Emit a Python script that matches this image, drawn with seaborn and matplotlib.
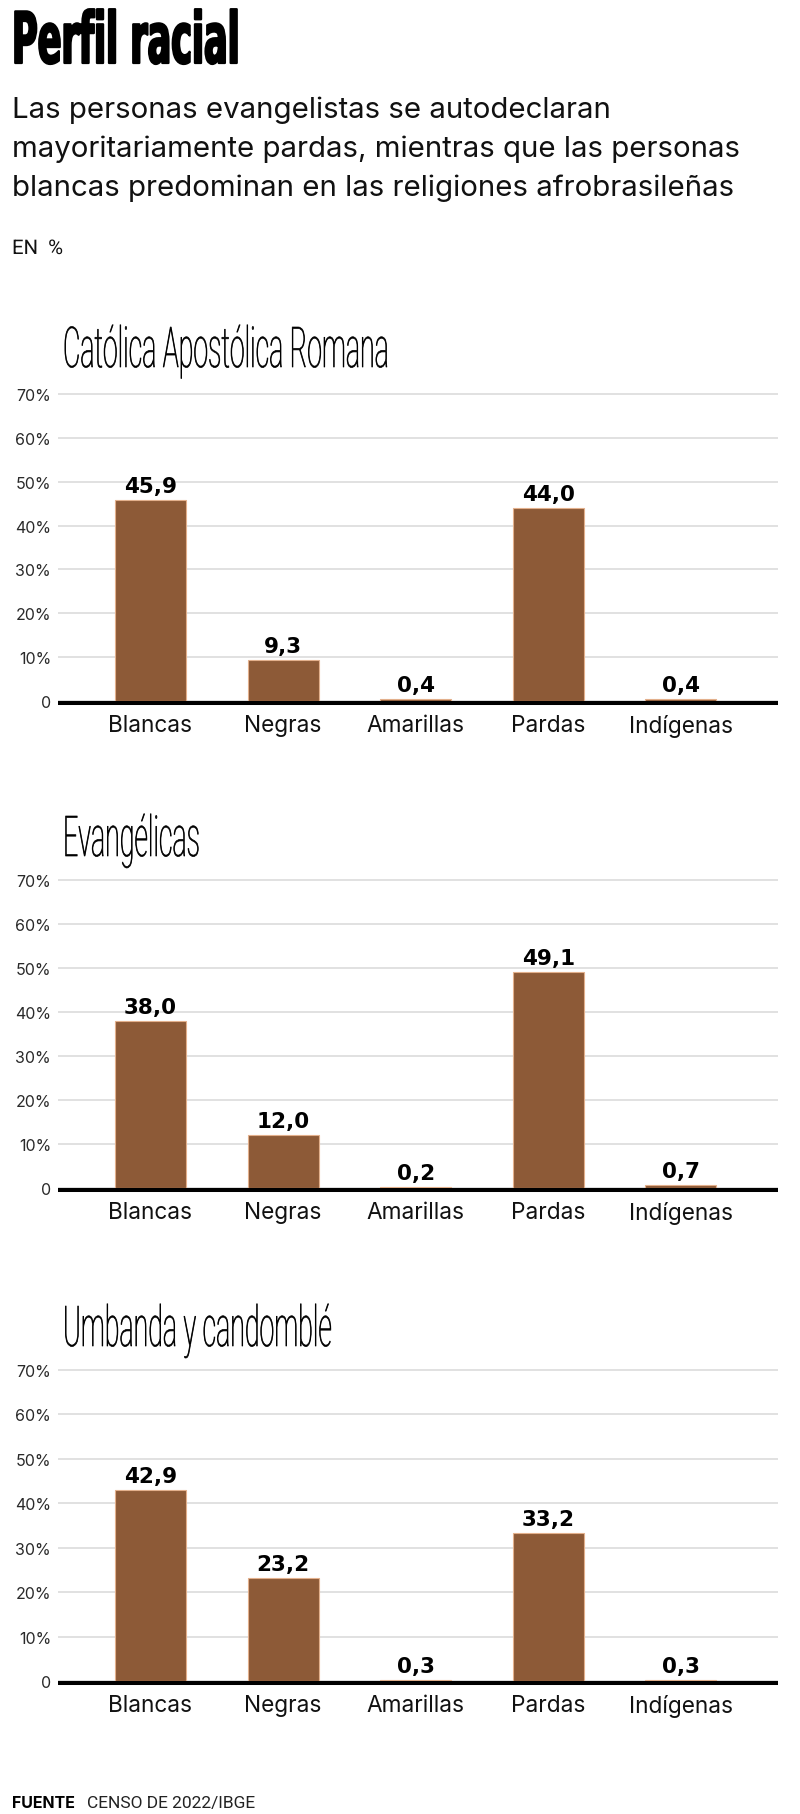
import matplotlib
matplotlib.use("Agg")
import matplotlib.pyplot as plt
import matplotlib.patheffects as pe
from matplotlib.transforms import Affine2D, offset_copy
from matplotlib.lines import Line2D
from matplotlib import font_manager as fm
import seaborn as sns
import pandas as pd

# ---------------- data ----------------
categories = ["Blancas", "Negras", "Amarillas", "Pardas", "Indígenas"]
catolica = [45.9, 9.3, 0.4, 44.0, 0.4]
evangelicas = [38.0, 12.0, 0.2, 49.1, 0.7]
umbanda = [42.9, 23.2, 0.3, 33.2, 0.3]
panel_titles = ["Católica Apostólica Romana", "Evangélicas", "Umbanda y candomblé"]
y_ticks = [0, 10, 20, 30, 40, 50, 60, 70]
y_ticklabels = ["0", "10%", "20%", "30%", "40%", "50%", "60%", "70%"]

title = "Perfil racial"
subtitle_lines = ["Las personas evangelistas se autodeclaran",
                  "mayoritariamente pardas, mientras que las personas",
                  "blancas predominan en las religiones afrobrasileñas"]
unit = "EN  %"
source_bold = "FUENTE"
source_text = "CENSO DE 2022/IBGE"

# ---------------- style ----------------
sns.set_theme(style="white")
names = {f.name for f in fm.fontManager.ttflist}
def pick(*fams):
    for f in fams:
        if f in names:
            return f
    return "DejaVu Sans"
SANS = pick("Inter", "Roboto", "DejaVu Sans")
LIGHT = pick("Roboto", "Inter", "DejaVu Sans")
plt.rcParams["font.family"] = [SANS, "DejaVu Sans"]

BAR = "#8d5a37"
EDGE = "#e3b08c"
W, H = 800, 1815
fig = plt.figure(figsize=(W / 100, H / 100), dpi=100)
fig.patch.set_facecolor("white")

def fy(px):
    return 1 - px / H

class HScale(pe.AbstractPathEffect):
    """Horizontally condense glyphs (optionally thickening them with a stroke)."""
    def __init__(self, sx, stroke=0.0):
        super().__init__()
        self.sx = sx
        self.stroke = stroke
    def draw_path(self, renderer, gc, tpath, affine, rgbFace=None):
        tr = Affine2D().scale(self.sx, 1) + affine
        if self.stroke > 0:
            gc0 = renderer.new_gc()
            gc0.copy_properties(gc)
            gc0.set_linewidth(self.stroke)
            gc0.set_foreground(rgbFace)
            gc0.set_joinstyle("round")
            renderer.draw_path(gc0, tpath, tr, rgbFace)
            gc0.restore()
        else:
            renderer.draw_path(gc, tpath, tr, rgbFace)

renderer = fig.canvas.get_renderer()

def squeezed(x, y, s, target_w, stroke=0.0, **kw):
    t = fig.text(x / W, fy(y), s, ha="left", va="baseline", **kw)
    w = t.get_window_extent(renderer).width
    t.set_path_effects([HScale(target_w / w, stroke)])
    return t

# header
squeezed(12, 64, title, 228, stroke=1.6, fontsize=51, fontweight="bold",
         family="DejaVu Sans", color="black")
for k, line in enumerate(subtitle_lines):
    fig.text(12 / W, fy(118 + 39 * k), line, ha="left", va="baseline", fontsize=21.2,
             color="#111111", family=[SANS, "DejaVu Sans"])
squeezed(12, 255, unit, 51, fontsize=14.5, color="#111111",
         family=[LIGHT, "DejaVu Sans"])

# panels
tops = [395, 881, 1371]
bottoms = [702, 1189, 1682]
title_base = [368, 857, 1347]
series = [catolica, evangelicas, umbanda]
left_px, right_px = 58, 778
centers0, step = 150.5, 132.6
ytop = 70.5

# horizontal squeeze for panel titles, fitted on the first title
probe = fig.text(0, 0, panel_titles[0], fontsize=40.5, family=[LIGHT, "DejaVu Sans"],
                 fontweight="light")
sx_title = 326 / probe.get_window_extent(renderer).width
probe.remove()

for i, (vals, ttl) in enumerate(zip(series, panel_titles)):
    px_per = (bottoms[i] - tops[i]) / 70
    hpx = ytop * px_per
    ax = fig.add_axes([left_px / W, fy(bottoms[i]), (right_px - left_px) / W, hpx / H])
    df = pd.DataFrame({"cat": categories, "val": vals})
    sns.barplot(data=df, x="cat", y="val", color=BAR, saturation=1, width=0.535,
                edgecolor=EDGE, linewidth=0.8, ax=ax, zorder=2)
    ax.set_xlim((left_px - centers0) / step, (right_px - centers0) / step)
    ax.set_ylim(0, ytop)
    ax.set_yticks(y_ticks)
    ax.set_yticklabels(y_ticklabels)
    ax.set_xlabel("")
    ax.set_ylabel("")
    ax.set_axisbelow(True)
    ax.yaxis.grid(True, color="#dedede", linewidth=1.3)
    ax.xaxis.grid(False)
    for s in ax.spines.values():
        s.set_visible(False)
    base_tr = offset_copy(ax.get_yaxis_transform(), fig=fig, y=-2.2, units="dots")
    ax.add_line(Line2D([0, 1], [0, 0], transform=base_tr, color="black",
                       linewidth=2.9, zorder=5, clip_on=False, solid_capstyle="butt"))
    ax.tick_params(axis="y", length=0, pad=5, labelsize=11.5, labelcolor="#2a2a2a")
    ax.tick_params(axis="x", length=0, pad=9.5, labelsize=16.3, labelcolor="#111111")
    for lab in ax.get_yticklabels() + ax.get_xticklabels():
        lab.set_family([SANS, "DejaVu Sans"])
    labels = [f"{v:.1f}".replace(".", ",") for v in vals]
    ax.bar_label(ax.containers[0], labels=labels, padding=3, fontsize=15.5,
                 fontweight="bold", family="DejaVu Sans", color="black")
    t = fig.text(63 / W, fy(title_base[i]), ttl, ha="left", va="baseline",
                 fontsize=40.5, family=[LIGHT, "DejaVu Sans"], fontweight="light",
                 color="black")
    t.set_path_effects([HScale(sx_title, 0.5)])

# source
fig.text(12 / W, fy(1808), source_bold, ha="left", va="baseline", fontsize=11.5,
         fontweight="bold", color="black", family=[SANS, "DejaVu Sans"])
fig.text(87 / W, fy(1808), source_text, ha="left", va="baseline", fontsize=12.5,
         color="#222222", family=[LIGHT, "DejaVu Sans"])

fig.savefig("out.png", dpi=100, facecolor="white")
